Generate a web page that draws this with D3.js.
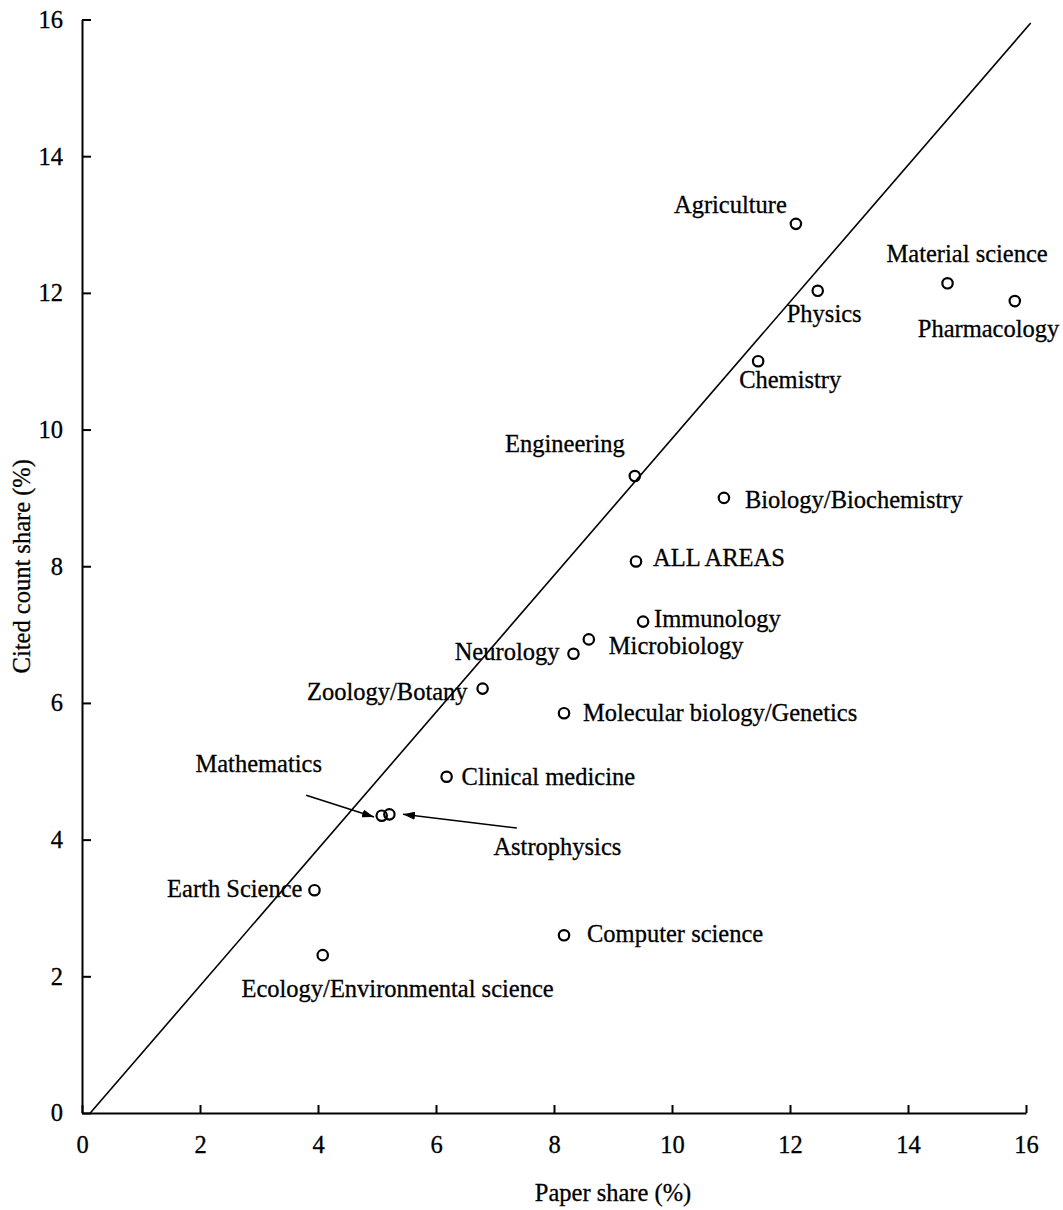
<!DOCTYPE html>
<html>
<head>
<meta charset="utf-8">
<script src="https://cdn.jsdelivr.net/npm/d3@7"></script>
<style>
  html, body { margin: 0; padding: 0; background: #fff; }
  svg { display: block; }
  text { font-family: "Liberation Serif", "Times New Roman", serif; fill: #000; stroke: #000; stroke-width: 0.3px; }
</style>
</head>
<body>
<svg id="chart" width="1063" height="1210"></svg>
<script>
// Research fields: share of papers vs share of citations (%)
const fields = [
  "Agriculture", "Physics", "Chemistry", "Material science", "Pharmacology",
  "Engineering", "Biology/Biochemistry", "ALL AREAS", "Immunology", "Microbiology",
  "Neurology", "Zoology/Botany", "Molecular biology/Genetics", "Clinical medicine",
  "Mathematics", "Astrophysics", "Earth Science", "Computer science",
  "Ecology/Environmental science"
];
const paperShare = [
  12.10, 12.47, 11.46, 14.67, 15.81,
  9.37, 10.88, 9.39, 9.51, 8.59,
  8.33, 6.79, 8.17, 6.18,
  5.08, 5.21, 3.94, 8.17,
  4.08
];
const citedShare = [
  13.01, 12.03, 11.00, 12.14, 11.88,
  9.32, 9.00, 8.07, 7.19, 6.93,
  6.72, 6.21, 5.85, 4.92,
  4.35, 4.37, 3.26, 2.60,
  2.31
];
const xTicks = [0, 2, 4, 6, 8, 10, 12, 14, 16];
const yTicks = [0, 2, 4, 6, 8, 10, 12, 14, 16];

// Reference line (paper share = cited share)
const refLine = [[0.14, 0], [16.08, 15.95]];

// Label placement: anchor and pixel offset of the baseline from the point
const labelLayout = [
  ["end", -9, -11], ["start", -31, 31], ["start", -19, 27], ["start", -61, -21], ["start", -97, 36],
  ["end", -10, -24], ["start", 21, 10], ["start", 17, 5], ["start", 11, 5], ["start", 20, 15],
  ["end", -14, 6], ["end", -15, 11], ["start", 19, 8], ["start", 15, 8],
  ["middle", -123, -44], ["start", 104, 41], ["end", -12, 7], ["start", 23, 7],
  ["end", 231, 42]
];

// Pointer arrows for the two overlapping points: [from, to] in data units
const pointers = [
  [[3.80, 4.65], [4.95, 4.33]],
  [[7.37, 4.17], [5.44, 4.37]]
];

const svg = d3.select("#chart");
const FONT = 24.5;

const x = d3.scaleLinear().domain([0, 16]).range([82, 1026]);
const y = d3.scaleLinear().domain([0, 16]).range([1113, 19.5]);

svg.append("defs").append("marker")
  .attr("id", "head")
  .attr("viewBox", "0 0 12 8")
  .attr("refX", 12).attr("refY", 4)
  .attr("markerWidth", 12).attr("markerHeight", 8)
  .attr("markerUnits", "userSpaceOnUse")
  .attr("orient", "auto")
  .append("path").attr("d", "M0,0 L12,4 L0,8 Z").attr("fill", "#000");

// Axes with inward ticks
const xAxis = svg.append("g")
  .attr("transform", `translate(0,${y(0)})`)
  .call(d3.axisBottom(x).tickValues(xTicks).tickFormat(d3.format("d"))
    .tickSizeInner(-8).tickSizeOuter(0).tickPadding(23));
const yAxis = svg.append("g")
  .attr("transform", `translate(${x(0)},0)`)
  .call(d3.axisLeft(y).tickValues(yTicks).tickFormat(d3.format("d"))
    .tickSizeInner(-9).tickSizeOuter(0).tickPadding(19));

[xAxis, yAxis].forEach(g => {
  g.select(".domain").attr("stroke", "#000").attr("stroke-width", 2);
  g.selectAll(".tick line").attr("stroke", "#000").attr("stroke-width", 2);
  g.selectAll(".tick text")
    .attr("font-family", "Liberation Serif, Times New Roman, serif")
    .attr("font-size", FONT).attr("fill", "#000");
});

// Axis titles
svg.append("text")
  .attr("x", 613).attr("y", 1201)
  .attr("text-anchor", "middle")
  .attr("font-size", FONT)
  .text("Paper share (%)");
svg.append("text")
  .attr("transform", `translate(30,${(y(0) + y(16)) / 2}) rotate(-90)`)
  .attr("text-anchor", "middle")
  .attr("font-size", FONT)
  .text("Cited count share (%)");

// Diagonal reference line
svg.append("path")
  .datum(refLine)
  .attr("d", d3.line().x(d => x(d[0])).y(d => y(d[1])))
  .attr("fill", "none").attr("stroke", "#000").attr("stroke-width", 1.6);

// Points
const pts = fields.map((f, i) => ({ name: f, px: paperShare[i], cy: citedShare[i], lay: labelLayout[i] }));

svg.append("g").selectAll("circle")
  .data(pts).join("circle")
  .attr("cx", d => x(d.px)).attr("cy", d => y(d.cy))
  .attr("r", 5.2)
  .attr("fill", "none").attr("stroke", "#000").attr("stroke-width", 2.2);

// Labels
svg.append("g").selectAll("text")
  .data(pts).join("text")
  .attr("x", d => x(d.px) + d.lay[1])
  .attr("y", d => y(d.cy) + d.lay[2])
  .attr("text-anchor", d => d.lay[0])
  .attr("font-size", FONT)
  .text(d => d.name);

// Pointer arrows
svg.append("g").selectAll("line")
  .data(pointers).join("line")
  .attr("x1", d => x(d[0][0])).attr("y1", d => y(d[0][1]))
  .attr("x2", d => x(d[1][0])).attr("y2", d => y(d[1][1]))
  .attr("stroke", "#000").attr("stroke-width", 1.5)
  .attr("marker-end", "url(#head)");
</script>
</body>
</html>
